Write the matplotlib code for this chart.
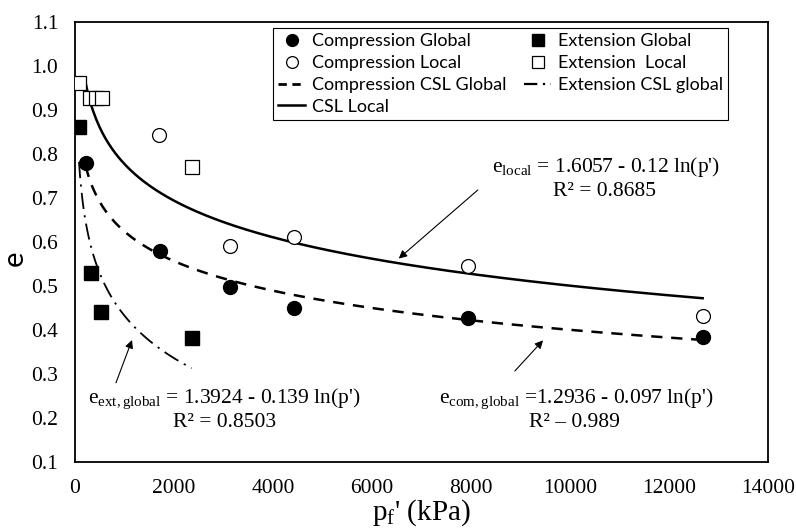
import numpy as np
import matplotlib
matplotlib.use("Agg")
import matplotlib.pyplot as plt
from matplotlib.lines import Line2D

plt.rcParams["mathtext.fontset"] = "custom"
plt.rcParams["mathtext.rm"] = "Liberation Serif"
plt.rcParams["mathtext.it"] = "Liberation Serif:italic"

SERIF = "Liberation Serif"
SANS = "Lato"

# Measured states at failure: mean effective stress p'_f (kPa) and void ratio e
comp_global_p = [216, 1717, 3131, 4431, 7945, 12680]
comp_global_e = [0.778, 0.580, 0.498, 0.450, 0.426, 0.385]

comp_local_p = [1703, 3131, 4424, 7945, 12680]
comp_local_e = [0.842, 0.590, 0.611, 0.545, 0.431]

ext_global_p = [81, 317, 525, 2357]
ext_global_e = [0.862, 0.530, 0.440, 0.382]

ext_local_p = [81, 300, 420, 540, 2357]
ext_local_e = [0.960, 0.927, 0.927, 0.927, 0.769]

# Logarithmic CSL fits: e = a - b ln(p')
csl_local = (1.6057, 0.12)
csl_comp_global = (1.2936, 0.097)
csl_ext_global = (1.3924, 0.139)

x_ticks = [0, 2000, 4000, 6000, 8000, 10000, 12000, 14000]
y_ticks = [0.1, 0.2, 0.3, 0.4, 0.5, 0.6, 0.7, 0.8, 0.9, 1.0, 1.1]


def csl(coef, p):
    a, b = coef
    return a - b * np.log(p)


fig = plt.figure(figsize=(7.96, 5.30), dpi=100)
ax = fig.add_axes([0.0942, 0.1283, 0.8706, 0.8307])

# Fitted critical state lines
p_loc = np.linspace(216, 12680, 400)
ax.plot(p_loc, csl(csl_local, p_loc), color="black", lw=1.8, zorder=2)
p_cg = np.linspace(216, 12680, 400)
ax.plot(p_cg, csl(csl_comp_global, p_cg), color="black", lw=1.8,
        linestyle=(0, (4.5, 3.5)), zorder=2)
p_eg = np.linspace(81, 2357, 400)
ax.plot(p_eg, csl(csl_ext_global, p_eg), color="black", lw=1.3,
        linestyle=(0, (9, 3.5, 1.2, 3.5)), zorder=2)

# Measured points
ms = 10
ax.plot(ext_local_p, ext_local_e, "s", ms=ms + 0.5, mfc="white", mec="black",
        mew=0.9, linestyle="none", zorder=3)
ax.plot(ext_global_p, ext_global_e, "s", ms=ms + 0.5, mfc="black", mec="black",
        linestyle="none", zorder=3)
ax.plot(comp_local_p, comp_local_e, "o", ms=ms, mfc="white", mec="black",
        mew=0.9, linestyle="none", zorder=3)
ax.plot(comp_global_p, comp_global_e, "o", ms=ms, mfc="black", mec="black",
        linestyle="none", zorder=3)

ax.set_xlim(0, 14000)
ax.set_ylim(0.1, 1.1)
ax.set_xticks(x_ticks)
ax.set_yticks(y_ticks)
ax.set_xticklabels([str(t) for t in x_ticks], fontfamily=SERIF, fontsize=15.5)
ax.set_yticklabels([f"{t:.1f}" for t in y_ticks], fontfamily=SERIF, fontsize=15.5)
ax.tick_params(length=0, pad=12)
for s in ax.spines.values():
    s.set_linewidth(1.3)
    s.set_color("black")

ax.set_xlabel(r"p$_\mathrm{f}$' (kPa)", fontfamily=SERIF, fontsize=21, labelpad=0)
fig.text(15 / 796, 1 - 258 / 530, "e", fontfamily=SANS, fontsize=21,
         rotation=90, ha="center", va="center")

# Fit equations with arrows to their curves
ann_fs = 15.5
ax.annotate("", xy=(6498, 0.558), xytext=(8181, 0.722),
            arrowprops=dict(arrowstyle="-|>", color="black", lw=0.8,
                            mutation_scale=12))
ax.text(10720, 0.77, r"e$_\mathrm{local}$ = 1.6057 - 0.12 ln(p')",
        fontfamily=SERIF, fontsize=ann_fs, ha="center", va="center")
ax.text(10690, 0.715, "R² = 0.8685",
        fontfamily=SERIF, fontsize=ann_fs, ha="center", va="center")

ax.annotate("", xy=(1172, 0.383), xytext=(808, 0.274),
            arrowprops=dict(arrowstyle="-|>", color="black", lw=0.8,
                            mutation_scale=12))
ax.text(3020, 0.243, r"e$_\mathrm{ext,global}$ = 1.3924 - 0.139 ln(p')",
        fontfamily=SERIF, fontsize=ann_fs, ha="center", va="center")
ax.text(3030, 0.19, "R² = 0.8503",
        fontfamily=SERIF, fontsize=ann_fs, ha="center", va="center")

ax.annotate("", xy=(9494, 0.381), xytext=(8848, 0.302),
            arrowprops=dict(arrowstyle="-|>", color="black", lw=0.8,
                            mutation_scale=12))
ax.text(10120, 0.243, r"e$_\mathrm{com,global}$ =1.2936 - 0.097 ln(p')",
        fontfamily=SERIF, fontsize=ann_fs, ha="center", va="center")
ax.text(10100, 0.19, "R² – 0.989",
        fontfamily=SERIF, fontsize=ann_fs, ha="center", va="center")

# Legend
handles = [
    Line2D([], [], marker="o", ls="none", mfc="black", mec="black", ms=8.5),
    Line2D([], [], marker="o", ls="none", mfc="white", mec="black", ms=8.5, mew=0.9),
    Line2D([], [], color="black", lw=2, linestyle=(0, (3, 2))),
    Line2D([], [], color="black", lw=1.8),
    Line2D([], [], marker="s", ls="none", mfc="black", mec="black", ms=8),
    Line2D([], [], marker="s", ls="none", mfc="white", mec="black", ms=8, mew=0.9),
    Line2D([], [], color="black", lw=1.6, linestyle=(0, (6, 2.5, 1, 2.5))),
]
labels = [
    "Compression Global", "Compression Local", "Compression CSL Global",
    "CSL Local", "Extension Global", "Extension  Local", "Extension CSL global",
]
leg = ax.legend(handles, labels, ncol=2, loc="upper left",
                bbox_to_anchor=(0.2857, 0.9857), frameon=True, fancybox=False,
                edgecolor="black", framealpha=1, borderpad=0.3,
                labelspacing=0.32, handlelength=1.5, handletextpad=0.35,
                columnspacing=1.0, borderaxespad=0,
                prop={"family": SANS, "size": 13})
leg.get_frame().set_linewidth(0.8)

fig.savefig("out.png", dpi=100, facecolor="white")
